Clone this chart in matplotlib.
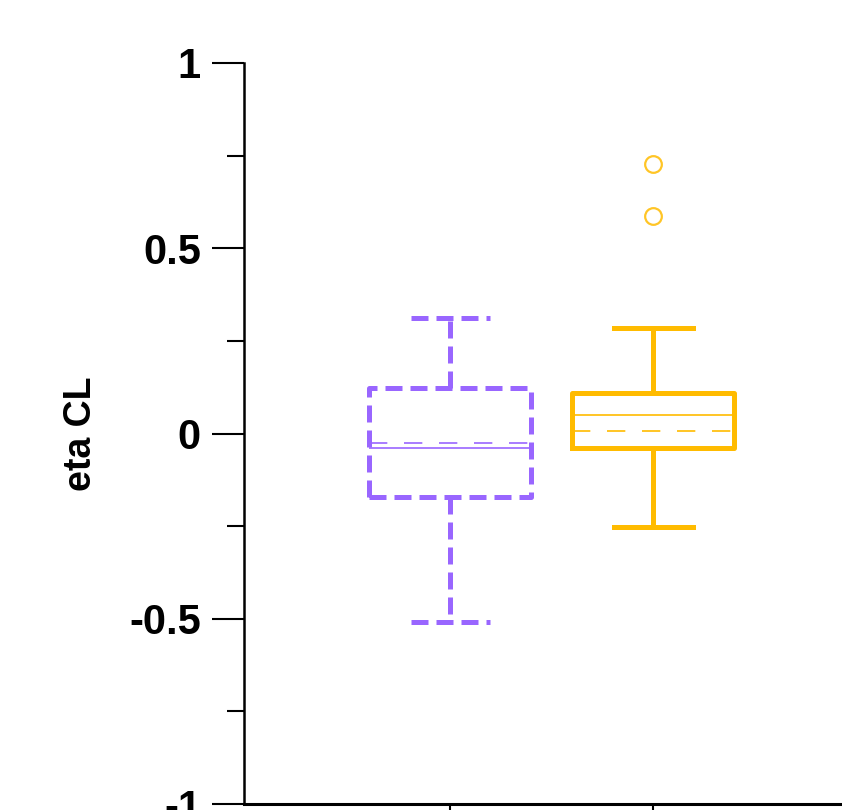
import matplotlib
matplotlib.use("Agg")
import matplotlib.pyplot as plt

# box statistics
groups = ["A", "B"]
colors = ["#9966FF", "#FFBB00"]
q1 = [-0.171, -0.039]
median = [-0.039, 0.050]
q3 = [0.123, 0.109]
means = [-0.026, 0.007]
whis_lo = [-0.509, -0.252]
whis_hi = [0.312, 0.285]
fliers = [[], [0.587, 0.727]]

ytick_vals = [-1, -0.5, 0, 0.5, 1]
ytick_labels = ["-1", "-0.5", "0", "0.5", "1"]
yminor_vals = [-0.75, -0.25, 0.25, 0.75]

plt.rcParams['font.family'] = ['Liberation Sans', 'DejaVu Sans']

fig = plt.figure(figsize=(8.42, 8.10), dpi=100)
ax = fig.add_axes([244 / 842, 6 / 810, 598 / 842, 741 / 810])

stats = []
for i, g in enumerate(groups):
    stats.append(dict(label=g, q1=q1[i], med=median[i], q3=q3[i], mean=means[i],
                      whislo=whis_lo[i], whishi=whis_hi[i], fliers=fliers[i]))

box_lw = 3.6
styles = [(0, (3.4, 1.6)), "-"]
for i, st in enumerate(stats):
    c = colors[i]
    ls = styles[i]
    ax.bxp([st], positions=[i + 1], widths=0.8, capwidths=0.39,
           showmeans=True, meanline=True,
           boxprops=dict(color=c, linewidth=box_lw, linestyle=ls),
           whiskerprops=dict(color=c, linewidth=box_lw, linestyle=ls),
           capprops=dict(color=c, linewidth=box_lw, linestyle=ls),
           medianprops=dict(color=c, linewidth=1.2, linestyle="-"),
           meanprops=dict(color=c, linewidth=1.2, linestyle=(0, (11, 10))),
           flierprops=dict(marker="o", markerfacecolor="none", markeredgecolor=c,
                           markersize=12, markeredgewidth=1.6, alpha=0.85))

ax.set_xlim(-0.015, 2.93)
ax.set_ylim(-1, 1)
ax.set_xticks([1, 2])
ax.set_xticklabels(["", ""])
ax.set_yticks(ytick_vals)
ax.set_yticklabels(ytick_labels, fontsize=30, fontweight="bold")
ax.set_yticks(yminor_vals, minor=True)

ax.tick_params(axis="y", which="major", length=23, width=1.5, pad=8)
ax.tick_params(axis="y", which="minor", length=12, width=1.5)
ax.tick_params(axis="x", which="major", length=10, width=1.5)

ax.spines["top"].set_visible(False)
ax.spines["right"].set_visible(False)
ax.spines["left"].set_linewidth(1.8)
ax.spines["bottom"].set_linewidth(2.2)

ax.set_ylabel("eta CL", fontsize=27, fontweight="bold", labelpad=22)

fig.savefig("out.png", dpi=100)
